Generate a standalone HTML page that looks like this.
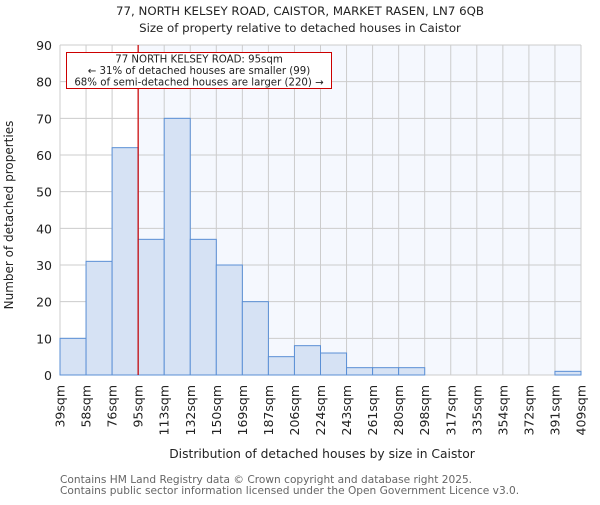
<!DOCTYPE html>
<html><head><meta charset="utf-8"><style>
body{margin:0;background:#fff;}
svg text{font-family:"DejaVu Sans","Liberation Sans",sans-serif;}
</style></head><body>
<svg id="chart" width="600" height="500" xmlns="http://www.w3.org/2000/svg">
<text x="300" y="15" text-anchor="middle" font-size="11.8" fill="#222">77, NORTH KELSEY ROAD, CAISTOR, MARKET RASEN, LN7 6QB</text>
<text x="300" y="32" text-anchor="middle" font-size="11.8" fill="#222">Size of property relative to detached houses in Caistor</text>
<g id="plot"></g>
<text transform="translate(13,215) rotate(-90)" text-anchor="middle" font-size="12" fill="#222">Number of detached properties</text>
<text x="322" y="458" text-anchor="middle" font-size="12.3" fill="#222">Distribution of detached houses by size in Caistor</text>
<text x="60" y="483" font-size="10.6" fill="#666">Contains HM Land Registry data © Crown copyright and database right 2025.</text>
<text x="60" y="494" font-size="10.6" fill="#666">Contains public sector information licensed under the Open Government Licence v3.0.</text>
</svg>
<script>
const binLabels=["39sqm","58sqm","76sqm","95sqm","113sqm","132sqm","150sqm","169sqm","187sqm","206sqm","224sqm","243sqm","261sqm","280sqm","298sqm","317sqm","335sqm","354sqm","372sqm","391sqm","409sqm"];
const counts=[10,31,62,37,70,37,30,20,5,8,6,2,2,2,0,0,0,0,0,1];
const yTicks=[0,10,20,30,40,50,60,70,80,90];
const markerIndex=3;
const NS="http://www.w3.org/2000/svg";
const L=60,R=581,T=45,B=375,YMAX=90;
const nb=counts.length;
const x=i=>L+(R-L)*i/nb;
const y=v=>B-(B-T)*v/YMAX;
const g=document.getElementById('plot');
function mk(tag,attrs,parent){const e=document.createElementNS(NS,tag);for(const k in attrs)e.setAttribute(k,attrs[k]);(parent||g).appendChild(e);return e;}
let e=mk('rect',{x:L,y:T,width:R-L,height:B-T,fill:'#fff'});


e=mk('rect',{x:x(markerIndex),y:T,width:R-x(markerIndex),height:B-T,fill:'#f5f8fe'});


for(let i=0;i<=nb;i++){e=mk('line',{x1:x(i),x2:x(i),y1:T,y2:B,stroke:'#cccccc','stroke-width':1});

}
yTicks.forEach(v=>{e=mk('line',{x1:L,x2:R,y1:y(v),y2:y(v),stroke:'#cccccc','stroke-width':1});


const t=mk('text',{x:L-8,y:y(v)+5,'text-anchor':'end','font-size':'12.5',fill:'#222'});t.textContent=v;

});
counts.forEach((c,i)=>{if(c<=0)return;e=mk('rect',{x:x(i),y:y(c),width:x(i+1)-x(i),height:B-y(c),fill:'#d6e2f4',stroke:'#5a8fd5','stroke-width':1});

});
binLabels.forEach((s,i)=>{const t=mk('text',{transform:`translate(${x(i)+4.5},${B+10}) rotate(-90)`,'text-anchor':'end','font-size':'12.5',fill:'#222'});t.textContent=s;

});
e=mk('line',{x1:x(markerIndex),x2:x(markerIndex),y1:T,y2:B,stroke:'#cc0000','stroke-width':1.2});


const ann=mk('g',{});


mk('rect',{x:66.5,y:52.5,width:265,height:36,fill:'#fff',stroke:'#cc0000','stroke-width':1},ann);
["77 NORTH KELSEY ROAD: 95sqm","← 31% of detached houses are smaller (99)","68% of semi-detached houses are larger (220) →"].forEach((s,k)=>{const t=mk('text',{x:199,y:62.5+k*11.5,'text-anchor':'middle','font-size':'10.2',fill:'#222'},ann);t.textContent=s;

});
</script>
</body></html>
